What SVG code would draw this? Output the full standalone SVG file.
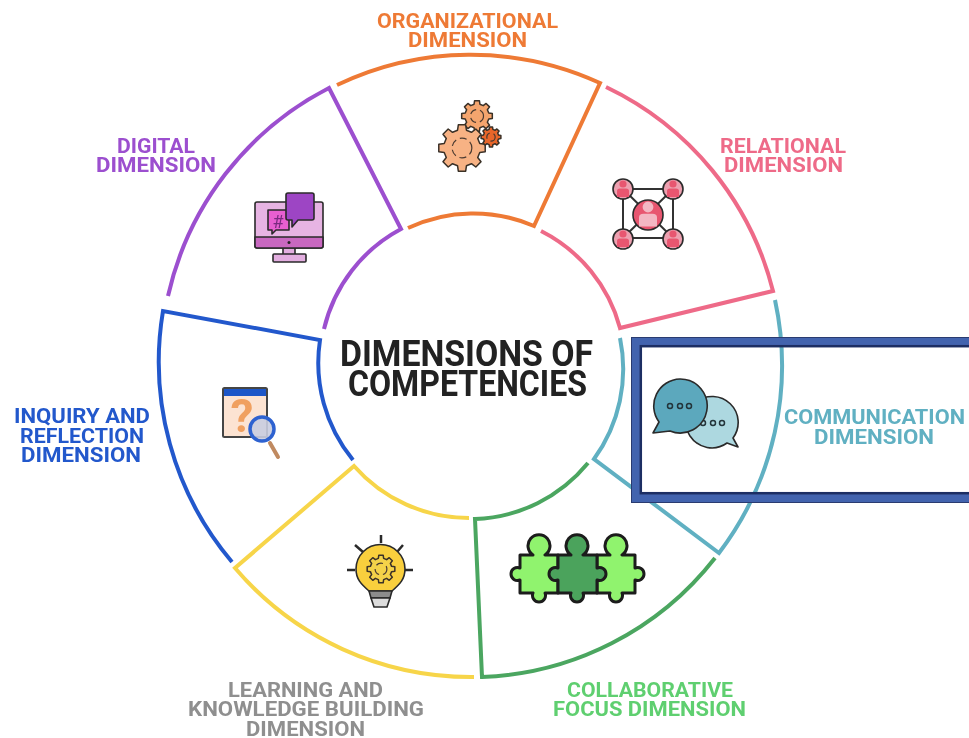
<svg xmlns="http://www.w3.org/2000/svg" width="969" height="738" viewBox="0 0 969 738">
<style>
.seg{fill:none;stroke-width:4;stroke-linejoin:miter}
.l{font-family:"Roboto","Liberation Sans",sans-serif;font-weight:700;font-size:21px}
.t{font-family:"Roboto","Liberation Sans",sans-serif;font-weight:700;font-size:36px;fill:#222}
.i{stroke:#2a2a2a;stroke-width:1.6;stroke-linejoin:round}
.gear{stroke:#3a3028;stroke-linejoin:round;vector-effect:non-scaling-stroke;stroke-width:1.5}
.gh{fill:none;stroke:#4a3a30;stroke-width:1.2;vector-effect:non-scaling-stroke;stroke-dasharray:7 4}
.p{stroke:#1c1c1c;stroke-width:3;stroke-linejoin:round}
</style>
<defs>
<filter id="soft" x="0" y="0" width="1" height="1"><feGaussianBlur stdDeviation="0.5"/></filter>
<g id="gearShape">
<polygon class="gear" points="75.7,-18.9 98.8,-15.6 98.8,15.6 75.7,18.9 66.9,40.2 80.9,58.8 58.8,80.9 40.2,66.9 18.9,75.7 15.6,98.8 -15.6,98.8 -18.9,75.7 -40.2,66.9 -58.8,80.9 -80.9,58.8 -66.9,40.2 -75.7,18.9 -98.8,15.6 -98.8,-15.6 -75.7,-18.9 -66.9,-40.2 -80.9,-58.8 -58.8,-80.9 -40.2,-66.9 -18.9,-75.7 -15.6,-98.8 15.6,-98.8 18.9,-75.7 40.2,-66.9 58.8,-80.9 80.9,-58.8 66.9,-40.2"/>
<circle class="gh" r="42"/>
</g>
<path id="person" d="M-3.600-6a3.600 3.600 0 1 1 7.200 0a3.600 3.600 0 1 1-7.200 0ZM-6 7V1Q-6-1.500-3-1.500H3Q6-1.500 6 1V7Z"/>
</defs>
<g filter="url(#soft)">
<rect width="969" height="738" fill="#fff"/>
<g id="connectors">
<path class="seg" stroke="#ee7a35" d="M337 85A310 310 0 0 1 600 83L534 226A153 153 0 0 0 408 228"/>
<path class="seg" stroke="#ee6b88" d="M606 87A310 310 0 0 1 773 291L620 328A153 153 0 0 0 541 231"/>
<path class="seg" stroke="#60b0c2" d="M775 300A310 310 0 0 1 719 553L594 459A153 153 0 0 0 620 338"/>
<path class="seg" stroke="#4ba661" d="M715 558A310 310 0 0 1 482 677L475 519A153 153 0 0 0 588 463"/>
<path class="seg" stroke="#f7d54a" d="M474 677A310 310 0 0 1 235 568L354 466A153 153 0 0 0 469 518"/>
<path class="seg" stroke="#2458cc" d="M232 562A310 310 0 0 1 163 311L320 340A153 153 0 0 0 353 460"/>
<path class="seg" stroke="#9c4fcf" d="M168 296A310 310 0 0 1 329 88L401 229A153 153 0 0 0 324 329"/>
</g>

<g id="center-title">
<text class="t" x="340" y="366" textLength="253" lengthAdjust="spacingAndGlyphs">DIMENSIONS OF</text>
<text class="t" x="348" y="396" textLength="239" lengthAdjust="spacingAndGlyphs">COMPETENCIES</text>
</g>

<g id="node-organizational">
<text class="l" fill="#ee7a35" x="377" y="28" textLength="181" lengthAdjust="spacingAndGlyphs">ORGANIZATIONAL</text>
<text class="l" fill="#ee7a35" x="408" y="47" textLength="119" lengthAdjust="spacingAndGlyphs">DIMENSION</text>
<use href="#gearShape" transform="translate(477 116) scale(.155)" fill="#f4a56e"/>
<use href="#gearShape" transform="translate(462 148) scale(.235)" fill="#f7b284"/>
<use href="#gearShape" transform="translate(491 137) scale(.1)" fill="#e8662c"/>
</g>

<g id="node-relational">
<text class="l" fill="#ee6b88" x="720" y="153" textLength="126" lengthAdjust="spacingAndGlyphs">RELATIONAL</text>
<text class="l" fill="#ee6b88" x="724" y="172" textLength="119" lengthAdjust="spacingAndGlyphs">DIMENSION</text>
<path d="M623 189H673V238H623ZM623 189L673 238M673 189L623 238" fill="none" stroke="#333" stroke-width="2"/>
<g class="i" fill="#eda0b0"><circle cx="623" cy="189" r="10"/><circle cx="673" cy="189" r="10"/><circle cx="623" cy="239" r="10"/><circle cx="673" cy="239" r="10"/></g>
<g fill="#e8566f"><use href="#person" x="623" y="190"/><use href="#person" x="673" y="190"/><use href="#person" x="623" y="240"/><use href="#person" x="673" y="240"/></g>
<circle class="i" cx="648" cy="215" r="15" fill="#e8566f"/>
<use href="#person" transform="translate(648 216) scale(1.5)" fill="#f3b7c3"/>
</g>

<g id="node-communication">
<text class="l" fill="#60b0c2" x="784" y="424" textLength="181" lengthAdjust="spacingAndGlyphs">COMMUNICATION</text>
<text class="l" fill="#60b0c2" x="814" y="444" textLength="120" lengthAdjust="spacingAndGlyphs">DIMENSION</text>
<path class="i" fill="#add8e0" d="M690 436A26 26 0 1 1 733 438L738 447L727 443A26 26 0 0 1 690 436Z"/>
<g fill="none" stroke="#24343a" stroke-width="1.500"><circle cx="703" cy="423" r="2.500"/><circle cx="713" cy="423" r="2.500"/><circle cx="722" cy="423" r="2.500"/></g>
<path class="i" fill="#5ba8bd" d="M680 379A27 27 0 1 1 670 431L653 433L659 422A27 27 0 0 1 680 379Z"/>
<g fill="none" stroke="#24343a" stroke-width="1.500"><circle cx="670" cy="406" r="2.500"/><circle cx="680" cy="406" r="2.500"/><circle cx="689" cy="406" r="2.500"/></g>
<rect x="636" y="342" width="360" height="156" fill="none" stroke="#4263ae" stroke-width="9"/>
<rect x="640.800" y="346.200" width="360" height="147" fill="none" stroke="#1f2f63" stroke-width="2.500"/>
<rect x="631.500" y="337.500" width="360" height="165" fill="none" stroke="#2a3a70" stroke-width="1"/>
</g>

<g id="node-collaborative">
<text class="l" fill="#5fcf6f" x="567" y="697" textLength="166" lengthAdjust="spacingAndGlyphs">COLLABORATIVE</text>
<text class="l" fill="#5fcf6f" x="553" y="716" textLength="193" lengthAdjust="spacingAndGlyphs">FOCUS DIMENSION</text>
<path class="p" fill="#90f36e" d="M520 555H533A11 11 0 1 1 545 555H558V593H545A6.500 6.500 0 1 1 533 593H520V580A6.500 6.500 0 1 1 520 568Z"/>
<path class="p" fill="#90f36e" d="M597 555H610A11 11 0 1 1 622 555H635V568A6.500 6.500 0 1 1 635 580V593H622A6.500 6.500 0 1 1 610 593H597Z"/>
<path class="p" fill="#4ba35c" d="M558 555H571A11 11 0 1 1 583 555H597V568A6.500 6.500 0 1 1 597 580V593H583A6.500 6.500 0 1 1 571 593H558V580A6.500 6.500 0 1 1 558 568Z"/>
</g>

<g id="node-learning">
<text class="l" fill="#8f8f8f" x="228" y="697" textLength="155" lengthAdjust="spacingAndGlyphs">LEARNING AND</text>
<text class="l" fill="#8f8f8f" x="188" y="716" textLength="236" lengthAdjust="spacingAndGlyphs">KNOWLEDGE BUILDING</text>
<text class="l" fill="#8f8f8f" x="246" y="736" textLength="119" lengthAdjust="spacingAndGlyphs">DIMENSION</text>
<path d="M381 535V543M347 570H355M405 570H413M355 545L363 552M403 545L397 552" stroke="#2a2a2a" stroke-width="2.500" fill="none"/>
<path class="i" fill="#f9cf3e" d="M369 591C361 584 356 579 356 569A24.500 24.500 0 0 1 405 569C405 579 400 584 392 591Z"/>
<use href="#gearShape" transform="translate(381 569) scale(.14)" fill="#f4d24a"/>
<path class="i" fill="#8c8c8c" d="M369 591H392L390 598H371Z"/>
<path class="i" fill="#dcdcdc" d="M371 598H390L387 607H374Z"/>
</g>

<g id="node-inquiry">
<text class="l" fill="#2458cc" x="14" y="423" textLength="136" lengthAdjust="spacingAndGlyphs">INQUIRY AND</text>
<text class="l" fill="#2458cc" x="20" y="443" textLength="124" lengthAdjust="spacingAndGlyphs">REFLECTION</text>
<text class="l" fill="#2458cc" x="21" y="462" textLength="120" lengthAdjust="spacingAndGlyphs">DIMENSION</text>
<rect x="223" y="388" width="44" height="49" rx="1.500" fill="#fce3d2" stroke="#444" stroke-width="2"/>
<rect x="224" y="389" width="42" height="7" fill="#1f56c8"/>
<text x="242" y="432" text-anchor="middle" font-family="Roboto,'Liberation Sans',sans-serif" font-weight="700" font-size="46" fill="#f0a060">?</text>
<path d="M270 443L278 457" stroke="#c08a60" stroke-width="4" stroke-linecap="round"/>
<circle cx="262" cy="429" r="12" fill="#c9cde0" fill-opacity=".9" stroke="#2e62d0" stroke-width="3.500"/>
</g>

<g id="node-digital">
<text class="l" fill="#9c4fcf" x="117" y="153" textLength="78" lengthAdjust="spacingAndGlyphs">DIGITAL</text>
<text class="l" fill="#9c4fcf" x="96" y="172" textLength="120" lengthAdjust="spacingAndGlyphs">DIMENSION</text>
<rect class="i" x="283" y="247" width="12" height="8" fill="#e3aee0"/>
<rect class="i" x="273" y="254" width="33" height="8" rx="1" fill="#e3aee0"/>
<rect class="i" x="255" y="202" width="68" height="46" rx="2" fill="#e7b4e3"/>
<path class="i" fill="#c868c0" d="M255 237H323V246a2 2 0 0 1-2 2H257a2 2 0 0 1-2-2Z"/>
<circle cx="289" cy="242.500" r="1.500" fill="#222"/>
<path class="i" fill="#e85fd0" d="M268 210H289V230H276L272 234V230H268Z"/>
<text x="278" y="228" text-anchor="middle" font-family="Roboto,'Liberation Sans',sans-serif" font-size="18" fill="#7a2a80">#</text>
<path class="i" fill="#9d45c4" d="M288 193H312a2 2 0 0 1 2 2V218a2 2 0 0 1-2 2H298L292 227V220H288a2 2 0 0 1-2-2V195a2 2 0 0 1 2-2Z"/>
</g>
</g>
</svg>
